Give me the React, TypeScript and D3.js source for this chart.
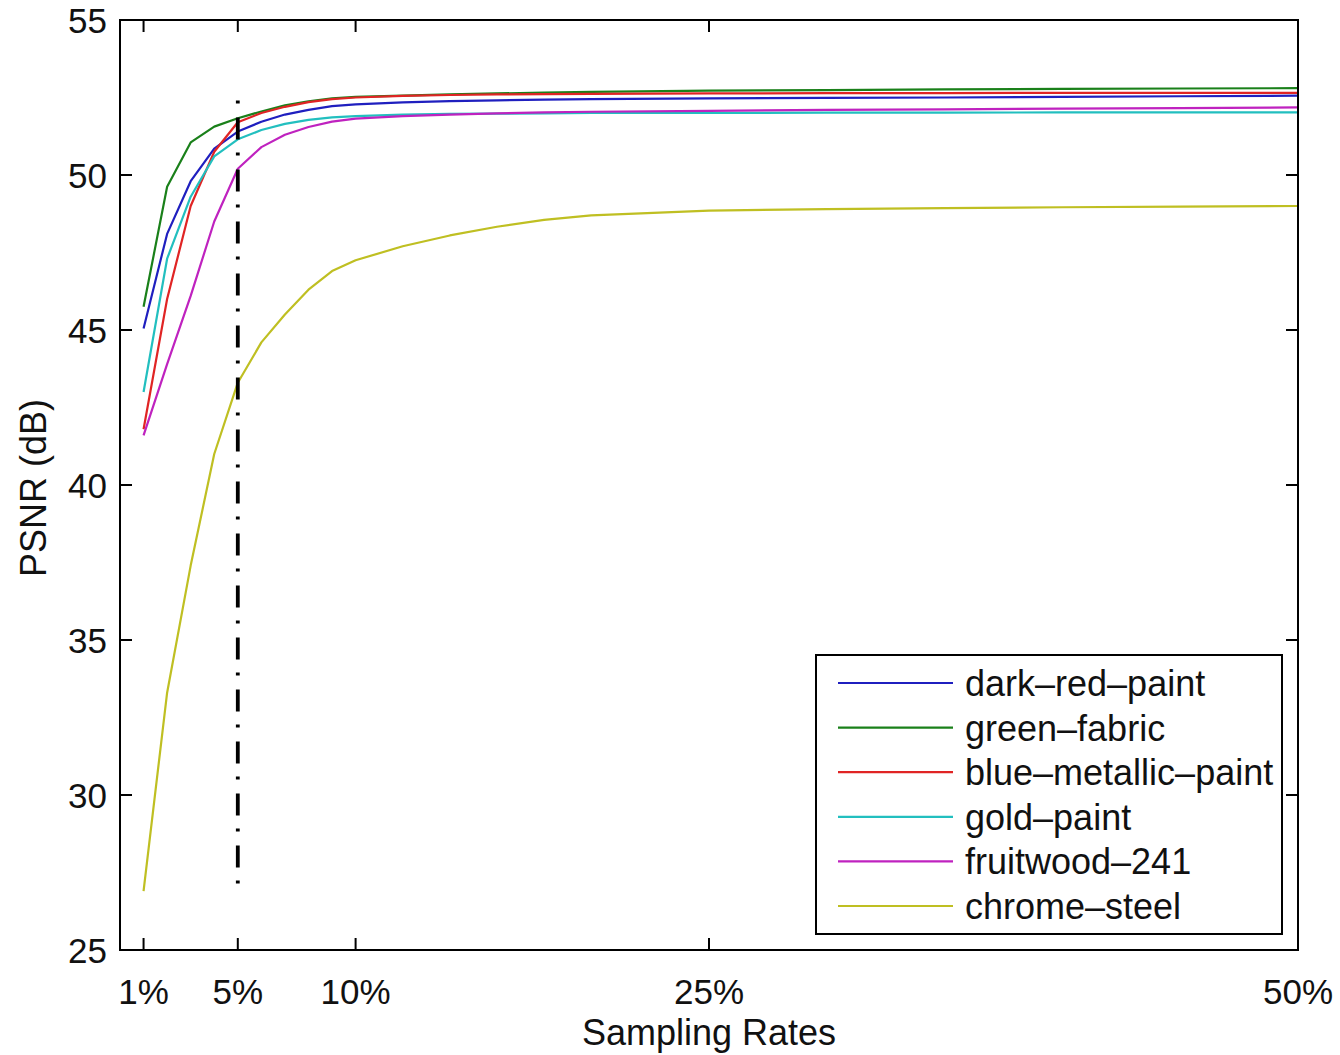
import React from "react";
import * as d3 from "d3";

const rates = [1, 2, 3, 4, 5, 6, 7, 8, 9, 10, 12, 14, 16, 18, 20, 25, 30, 35, 40, 45, 50];

const darkRedPaint = [45.05, 48.1, 49.8, 50.85, 51.4, 51.72, 51.95, 52.1, 52.22, 52.28, 52.34, 52.38, 52.41, 52.43, 52.45, 52.47, 52.49, 52.5, 52.52, 52.54, 52.56];
const greenFabric = [45.75, 49.62, 51.05, 51.56, 51.83, 52.05, 52.25, 52.38, 52.47, 52.52, 52.56, 52.6, 52.63, 52.66, 52.68, 52.72, 52.74, 52.76, 52.78, 52.79, 52.8];
const blueMetallicPaint = [41.8, 46.0, 49.0, 50.75, 51.7, 52.0, 52.2, 52.35, 52.45, 52.5, 52.55, 52.58, 52.6, 52.61, 52.62, 52.63, 52.64, 52.64, 52.65, 52.65, 52.65];
const goldPaint = [43.0, 47.3, 49.3, 50.6, 51.15, 51.45, 51.65, 51.78, 51.86, 51.9, 51.95, 51.97, 51.98, 51.99, 52.0, 52.0, 52.01, 52.01, 52.02, 52.02, 52.02];
const fruitwood241 = [41.6, 43.9, 46.1, 48.5, 50.2, 50.9, 51.3, 51.55, 51.72, 51.82, 51.9, 51.95, 51.99, 52.02, 52.04, 52.07, 52.1, 52.12, 52.14, 52.16, 52.18];
const chromeSteel = [26.9, 33.3, 37.4, 41.0, 43.3, 44.6, 45.5, 46.3, 46.9, 47.25, 47.7, 48.05, 48.33, 48.55, 48.7, 48.85, 48.9, 48.93, 48.96, 48.98, 49.0];

const seriesNames = ["dark–red–paint", "green–fabric", "blue–metallic–paint", "gold–paint", "fruitwood–241", "chrome–steel"];
const seriesColors = ["#1f1fbf", "#1a801a", "#e02424", "#22bfbf", "#bf22bf", "#bfbf22"];
const seriesValues = [darkRedPaint, greenFabric, blueMetallicPaint, goldPaint, fruitwood241, chromeSteel];

const xTicks = [1, 5, 10, 25, 50];
const xTickLabels = ["1%", "5%", "10%", "25%", "50%"];
const yTicks = [25, 30, 35, 40, 45, 50, 55];

const markerRate = 5;
const markerRange = [26.9, 52.4];

const W = 1340;
const H = 1055;
const L = 120, R = 1298, T = 20, B = 950;
const FONT = "'Liberation Sans', Arial, Helvetica, sans-serif";
const FS = 35;
const FS_BIG = 36;

export default function App() {
  const x = d3.scaleLinear().domain([0, 50]).range([L, R]);
  const y = d3.scaleLinear().domain([25, 55]).range([B, T]);
  const line = d3
    .line<number>()
    .x((_, i) => x(rates[i]))
    .y((v) => y(v));

  const tickLen = 12;
  const legX = 816, legY = 655, legW = 466, legH = 279;
  const rowY0 = 683, rowStep = 44.6;

  return (
    <svg width={W} height={H} style={{ position: "absolute", left: 0, top: 0, background: "#fff" }} fontFamily={FONT}>
      <rect x={0} y={0} width={W} height={H} fill="#fff" />
      {seriesValues.map((vals, i) => (
        <path key={i} d={line(vals) || ""} fill="none" stroke={seriesColors[i]} strokeWidth={2.2} strokeLinejoin="round" />
      ))}
      <line
        x1={x(markerRate)}
        x2={x(markerRate)}
        y1={y(markerRange[1])}
        y2={y(markerRange[0])}
        stroke="#000"
        strokeWidth={3.8}
        strokeDasharray="3 14 22 13"
      />
      <rect x={L} y={T} width={R - L} height={B - T} fill="none" stroke="#000" strokeWidth={2} />
      {xTicks.map((t, i) => (
        <g key={"xt" + i}>
          <line x1={x(t)} x2={x(t)} y1={B} y2={B - tickLen} stroke="#000" strokeWidth={2} />
          <line x1={x(t)} x2={x(t)} y1={T} y2={T + tickLen} stroke="#000" strokeWidth={2} />
          <text x={x(t)} y={1004} textAnchor="middle" fontSize={FS} fill="#111">
            {xTickLabels[i]}
          </text>
        </g>
      ))}
      {yTicks.map((t, i) => (
        <g key={"yt" + i}>
          <line x1={L} x2={L + tickLen} y1={y(t)} y2={y(t)} stroke="#000" strokeWidth={2} />
          <line x1={R} x2={R - tickLen} y1={y(t)} y2={y(t)} stroke="#000" strokeWidth={2} />
          <text x={107} y={y(t)} dy="0.36em" textAnchor="end" fontSize={FS} fill="#111">
            {t}
          </text>
        </g>
      ))}
      <text x={x(25)} y={1045} textAnchor="middle" fontSize={FS_BIG} fill="#111">
        Sampling Rates
      </text>
      <text transform={`translate(46,${(T + B) / 2 + 3}) rotate(-90)`} textAnchor="middle" fontSize={FS_BIG} fill="#111">
        PSNR (dB)
      </text>
      <rect x={legX} y={legY} width={legW} height={legH} fill="#fff" stroke="#000" strokeWidth={2} />
      {seriesNames.map((n, i) => (
        <g key={"lg" + i}>
          <line x1={838} x2={953} y1={rowY0 + i * rowStep} y2={rowY0 + i * rowStep} stroke={seriesColors[i]} strokeWidth={2.2} />
          <text x={965} y={rowY0 + i * rowStep} dy="0.36em" fontSize={FS_BIG} fill="#111">
            {n}
          </text>
        </g>
      ))}
    </svg>
  );
}
